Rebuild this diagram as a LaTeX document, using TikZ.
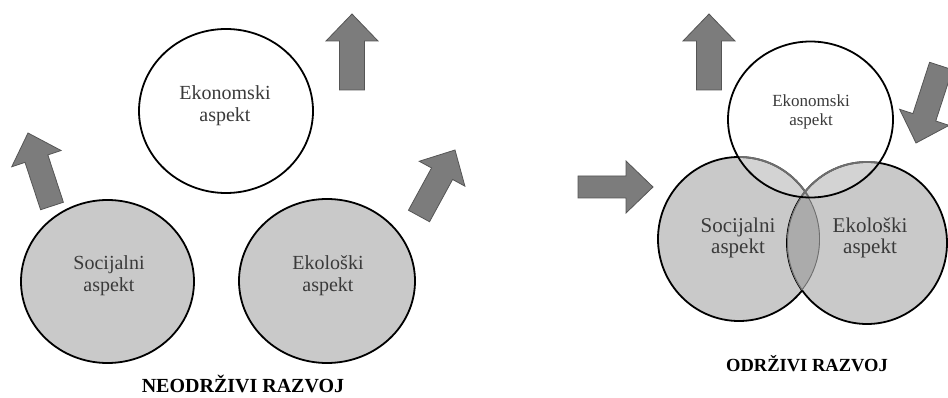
\documentclass[tikz,border=0pt]{standalone}
\usepackage{fontspec}
\setmainfont{Liberation Serif}
\usetikzlibrary{calc,shapes.geometric}
\definecolor{circgray}{HTML}{C9C9C9}
\definecolor{lensgray}{HTML}{ABABAB}
\definecolor{lensline}{HTML}{6E6E6E}
\definecolor{arrgray}{HTML}{7C7C7C}
\definecolor{arredge}{HTML}{555555}
\definecolor{labgray}{HTML}{3A3A3A}
\tikzset{
  circ/.style={ellipse, draw=black, line width=1.8pt, inner sep=0pt},
  graycirc/.style={circ, fill=circgray},
  whitecirc/.style={circ, fill=white},
  lab/.style={text=labgray, align=center, inner sep=0pt},
  title/.style={text=black, font=\bfseries\fontsize{20}{22}\selectfont, inner sep=0pt, anchor=base},
  fatarr/.style={fill=arrgray, draw=arredge, line width=0.8pt, line join=miter},
  innerline/.style={lensline, line width=1.8pt}
}
\newcommand\fatarrow[4]{%
  \coordinate (#1-h) at ($(#2)!27pt!(#1)$);
  \draw[fatarr] ($(#1)!#3!90:(#2)$) -- ($(#1-h)!#3!90:(#2)$) -- ($(#1-h)!#4!90:(#2)$) -- (#2)
    -- ($(#1-h)!#4!-90:(#2)$) -- ($(#1-h)!#3!-90:(#2)$) -- ($(#1)!#3!-90:(#2)$) -- cycle;}
\begin{document}
\begin{tikzpicture}[x=1pt,y=-1pt]
\path[use as bounding box, fill=white] (0,0) rectangle (948,398);

% ---------- left: unsustainable ----------
\node[whitecirc, minimum width=174pt, minimum height=164pt] (ecoL) at (226,111) {};
\node[graycirc, minimum width=173pt, minimum height=163pt] (socL) at (107.5,281.5) {};
\node[graycirc, minimum width=176pt, minimum height=164pt] (ekoL) at (327,281) {};
\node[lab, font=\fontsize{20}{22}\selectfont] (ecoLt) at (225,106) {Ekonomski\\aspekt};
\node[lab, font=\fontsize{20}{22}\selectfont] (socLt) at (109,276) {Socijalni\\aspekt};
\node[lab, font=\fontsize{20}{22}\selectfont] (ekoLt) at (328,276) {Ekološki\\aspekt};
\node[title] (neo) at (243,392) {NEODRŽIVI RAZVOJ};

\coordinate (aA) at (352,90);  \coordinate (aAp) at (352,14);
\coordinate (aB) at (52,206);  \coordinate (aBp) at (28,133);
\coordinate (aC) at (419,216); \coordinate (aCp) at (455,150);
\fatarrow{aA}{aAp}{12.5pt}{26pt}
\fatarrow{aB}{aBp}{12pt}{26pt}
\fatarrow{aC}{aCp}{12pt}{26pt}

% ---------- right: sustainable ----------
\node[graycirc, minimum width=162pt, minimum height=164pt] (socR) at (739,239) {};
\node[graycirc, minimum width=160pt, minimum height=162pt] (ekoR) at (867,243) {};
\begin{scope}
  \clip (socR.center) ellipse [x radius=81pt, y radius=82pt];
  \clip (ekoR.center) ellipse [x radius=80pt, y radius=81pt];
  \fill[lensgray] (socR.center) ellipse [x radius=81pt, y radius=82pt];
  \draw[innerline] (socR.center) ellipse [x radius=81pt, y radius=82pt];
  \draw[innerline] (ekoR.center) ellipse [x radius=80pt, y radius=81pt];
\end{scope}
\fill[white, fill opacity=0.2] (810.5,119.5) ellipse [x radius=82.5pt, y radius=78pt];
\begin{scope}
  \clip (810.5,119.5) ellipse [x radius=82.5pt, y radius=78pt];
  \draw[innerline] (socR.center) ellipse [x radius=81pt, y radius=82pt];
  \draw[innerline] (ekoR.center) ellipse [x radius=80pt, y radius=81pt];
\end{scope}
\node[circ, minimum width=165pt, minimum height=156pt] (ecoR) at (810.5,119.5) {};
\node[lab, font=\fontsize{17}{19}\selectfont] (ecoRt) at (811,112) {Ekonomski\\aspekt};
\node[lab, font=\fontsize{21}{21}\selectfont] (socRt) at (738,238) {Socijalni\\aspekt};
\node[lab, font=\fontsize{21}{21}\selectfont] (ekoRt) at (870,238) {Ekološki\\aspekt};
\node[title, font=\bfseries\fontsize{18.5}{20}\selectfont] (odr) at (807,371) {ODRŽIVI RAZVOJ};

\coordinate (aD) at (709,90);  \coordinate (aDp) at (709,14);
\coordinate (aE) at (941,66);  \coordinate (aEp) at (916,143);
\coordinate (aF) at (578,187); \coordinate (aFp) at (653,187);
\fatarrow{aD}{aDp}{12.5pt}{26pt}
\fatarrow{aE}{aEp}{12pt}{26pt}
\fatarrow{aF}{aFp}{11pt}{26pt}
\end{tikzpicture}
\end{document}
